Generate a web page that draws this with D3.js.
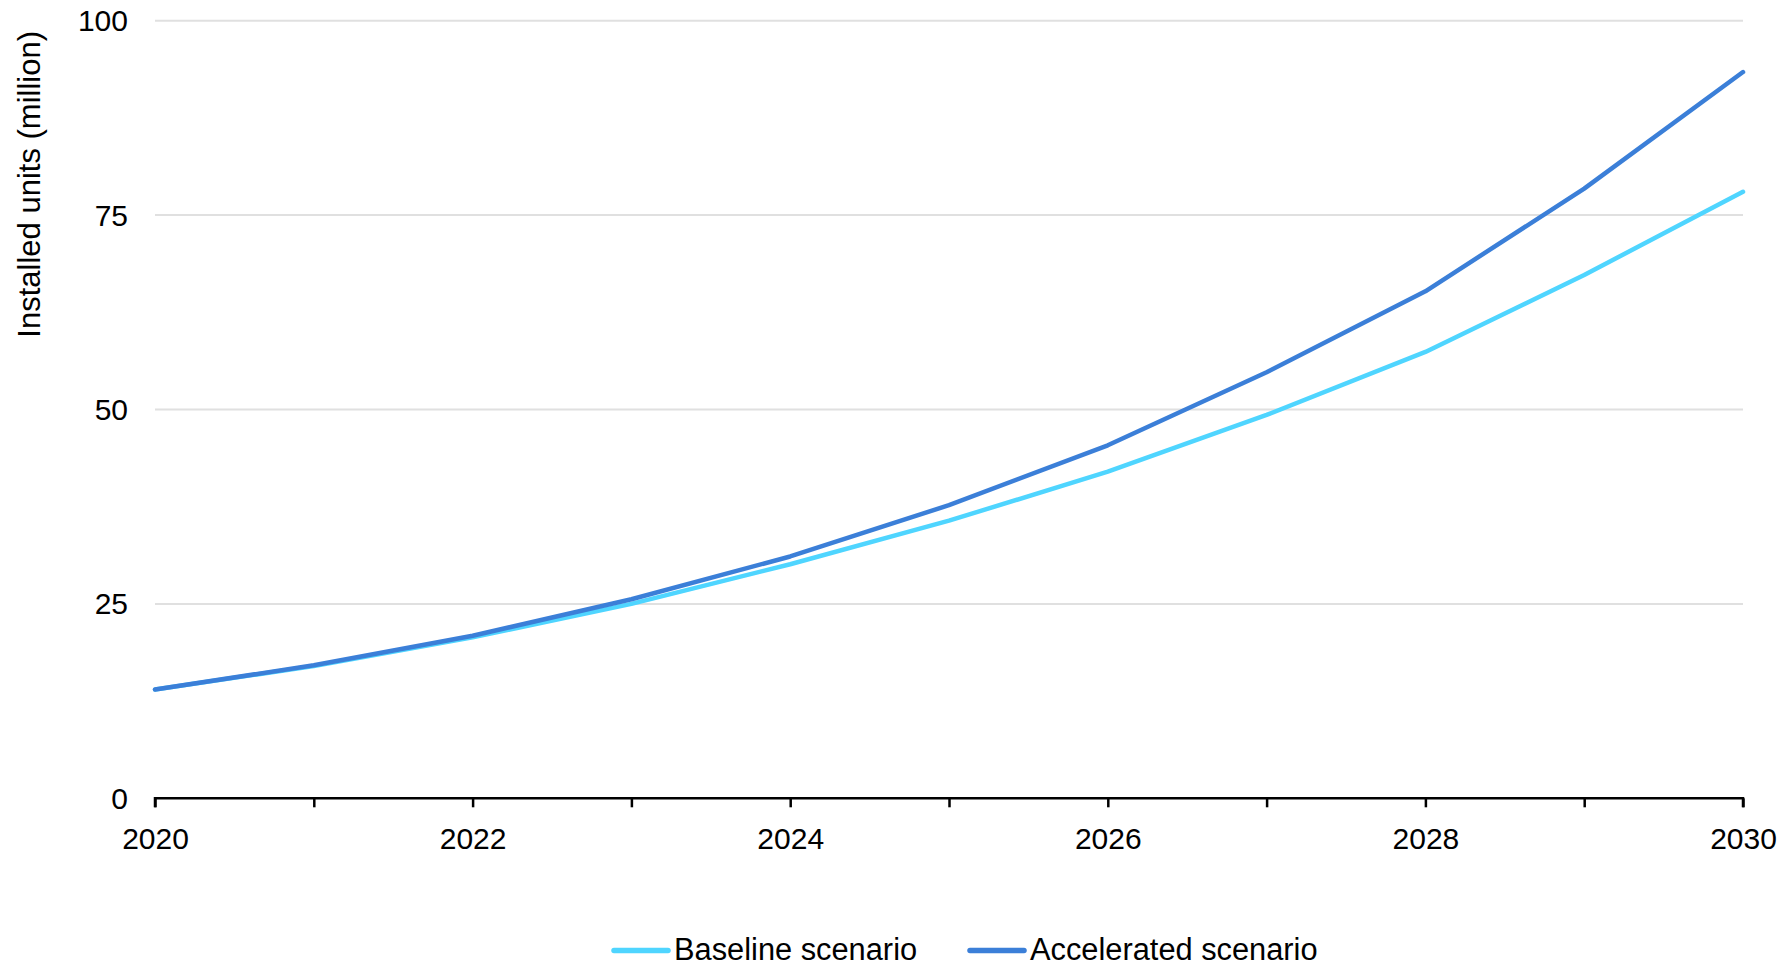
<!DOCTYPE html>
<html>
<head>
<meta charset="utf-8">
<script src="https://cdn.jsdelivr.net/npm/d3@7"></script>
<style>
  html, body { margin: 0; padding: 0; background: #fff; }
  svg { display: block; }
  text { font-family: "Liberation Sans", Arial, sans-serif; fill: #000; }
</style>
</head>
<body>
<svg id="chart" width="1791" height="966"></svg>
<script>
const years = [2020, 2021, 2022, 2023, 2024, 2025, 2026, 2027, 2028, 2029, 2030];
const baseline = [14.0, 17.0, 20.7, 25.0, 30.1, 35.7, 42.0, 49.3, 57.4, 67.3, 78.0];
const accelerated = [14.0, 17.1, 20.9, 25.6, 31.1, 37.7, 45.4, 54.8, 65.2, 78.4, 93.4];
const yTicks = [0, 25, 50, 75, 100];
const xLabelYears = [2020, 2022, 2024, 2026, 2028, 2030];
const seriesNames = ["Baseline scenario", "Accelerated scenario"];
const seriesColors = ["#4fd5ff", "#3b7fd8"];
const yTitle = "Installed units (million)";

const svg = d3.select("#chart");
const plotLeft = 155, plotRight = 1743, plotTop = 20.7, plotBottom = 798.3;

const x = d3.scaleLinear().domain([2020, 2030]).range([plotLeft, plotRight]);
const y = d3.scaleLinear().domain([0, 100]).range([plotBottom, plotTop]);

// gridlines
svg.append("g")
  .selectAll("line")
  .data(yTicks.filter(d => d > 0))
  .join("line")
  .attr("x1", plotLeft).attr("x2", plotRight)
  .attr("y1", d => y(d)).attr("y2", d => y(d))
  .attr("stroke", "#e0e0e0").attr("stroke-width", 2);

// y tick labels
const yAxis = d3.axisLeft(y).tickValues(yTicks).tickSize(0).tickPadding(27);
const gy = svg.append("g").attr("transform", `translate(${plotLeft},0)`).call(yAxis);
gy.select(".domain").remove();
gy.selectAll("text").attr("font-size", 30).attr("font-family", "Liberation Sans, Arial, sans-serif").attr("dy", "0.33em").attr("fill", "#000");

// x axis
const xAxis = d3.axisBottom(x).tickValues(years).tickSize(9).tickPadding(20)
  .tickFormat(d => xLabelYears.includes(d) ? String(d) : "");
const gx = svg.append("g").attr("transform", `translate(0,${plotBottom})`).call(xAxis);
gx.select(".domain").attr("stroke", "#000").attr("stroke-width", 2.5)
  .attr("d", `M${plotLeft},9V0H${plotRight}V9`);
gx.selectAll(".tick line").attr("stroke", "#000").attr("stroke-width", 2.5);
gx.selectAll("text").attr("font-size", 30).attr("font-family", "Liberation Sans, Arial, sans-serif").attr("fill", "#000");

// y title
svg.append("text")
  .attr("transform", `translate(40,31) rotate(-90)`)
  .attr("text-anchor", "end")
  .attr("font-size", 31)
  .text(yTitle);

// lines
const line = d3.line().x((d, i) => x(years[i])).y(d => y(d));
[baseline, accelerated].forEach((s, k) => {
  svg.append("path")
    .datum(s)
    .attr("d", line)
    .attr("fill", "none")
    .attr("stroke", seriesColors[k])
    .attr("stroke-width", 4.5)
    .attr("stroke-linejoin", "round")
    .attr("stroke-linecap", "round");
});

// legend
const legendX = [614, 970];
const legY = 950.5;
seriesNames.forEach((name, k) => {
  const g = svg.append("g");
  g.append("line")
    .attr("x1", legendX[k]).attr("x2", legendX[k] + 54)
    .attr("y1", legY).attr("y2", legY)
    .attr("stroke", seriesColors[k]).attr("stroke-width", 5.5)
    .attr("stroke-linecap", "round");
  g.append("text")
    .attr("x", legendX[k] + 60)
    .attr("y", 959.5)
    .attr("font-size", 30.8)
    .text(name);
});
</script>
</body>
</html>
